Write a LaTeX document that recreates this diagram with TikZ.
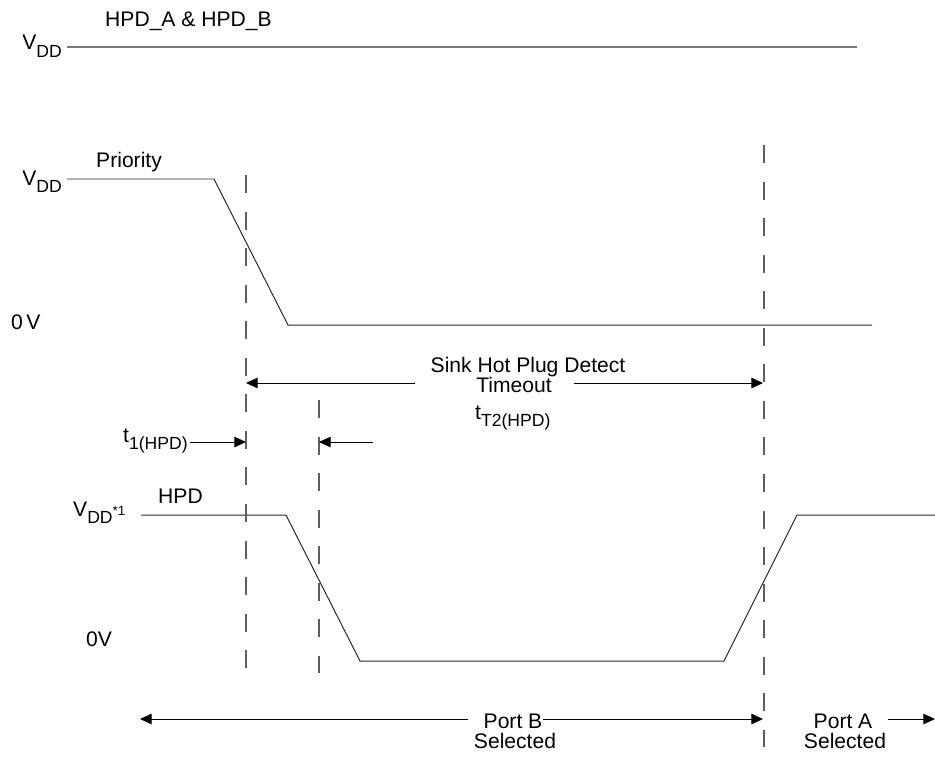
\documentclass[tikz,border=0pt]{standalone}
\usepackage{fontspec}
\setmainfont{Liberation Sans}
\usepackage{xcolor}
\usetikzlibrary{positioning,arrows.meta}
\definecolor{wavecolor}{RGB}{40,40,40}
\definecolor{railcolor}{RGB}{120,120,120}
\definecolor{guidecolor}{RGB}{95,95,95}
\newcommand{\lowsub}[1]{\raisebox{-6pt}{\fontsize{15}{15}\selectfont #1}}
\newcommand{\smallsup}[1]{\raisebox{0.5pt}{\fontsize{11.5}{11.5}\selectfont #1}}
\tikzset{
    wave/.style={draw=wavecolor, line width=0.85pt, line join=miter},
    rail/.style={draw=railcolor, line width=1pt},
    guide/.style={draw=guidecolor, line width=1.1pt, dash pattern=on 15.4pt off 15.8pt},
    span arrow/.style={draw=black, line width=0.85pt, -{Triangle[length=10pt,width=9pt]}},
    level label/.style={inner sep=0pt, font=\fontsize{18}{18}\selectfont}
}

\begin{document}
\begin{tikzpicture}[x=0.03cm, y=-0.03cm]
\useasboundingbox (0,0) rectangle (935,761);

% HPD_A & HPD_B rail
\node[level label, anchor=base west] (railname) at (105,27) {HPD\_A \& HPD\_B};
\node[level label, anchor=base east] (railvdd) at (62,50) {V\lowsub{DD}};
\coordinate (railstart) at (67,47);
\coordinate (railend) at (857,47);
\draw[rail] (railstart) -- (railend);

% Priority
\node[level label, anchor=base west] (prioname) at (96,167) {Priority};
\node[level label, anchor=base east] (priovdd) at (62,185) {V\lowsub{DD}};
\node[level label, anchor=base west] (priozero) at (11,329) {0\,V};
\draw[wave] (67,179) coordinate (priostart) -- (214,179) -- (288,325) -- (872,325) coordinate (prioend);

% HPD
\node[level label, anchor=base west] (hpdname) at (158,503) {HPD};
\node[level label, anchor=base west] (hpdvdd) at (73,516) {V\lowsub{DD}\smallsup{*1}};
\node[level label, anchor=base west] (hpdzero) at (86,646) {0V};
\draw[wave] (141,515) coordinate (hpdstart) -- (286,515) -- (360,661) -- (724,661) -- (797,515) -- (935,515) coordinate (hpdend);

% dashed guides
\coordinate (gatop) at (246,175);
\coordinate (gabot) at (246,668);
\coordinate (gbtop) at (319,400);
\coordinate (gbbot) at (319,673);
\coordinate (gctop) at (764,145);
\coordinate (gcbot) at (764,747);
\draw[guide] (gatop) -- (gabot);
\draw[guide] (gbtop) -- (gbbot);
\draw[guide] (gctop) -- (gcbot);

% sink timeout
\node[level label, anchor=base] (sinktext) at (528,372) {Sink Hot Plug Detect};
\node[level label, anchor=base] (timeout) at (514,392) {Timeout};
\node[level label, anchor=base west] (ttwo) at (475,419) {t\lowsub{T2(HPD)}};
\coordinate (sinkleft) at (246,383);
\coordinate (sinkright) at (763,383);
\draw[span arrow] ([xshift=-13pt]sinktext.west |- sinkleft) -- (sinkleft);
\draw[span arrow] ([xshift=19pt]timeout.east |- sinkright) -- (sinkright);

% t1(HPD)
\node[level label, anchor=base west] (tone) at (123,442) {t\lowsub{1(HPD)}};
\coordinate (toneend) at (246,442);
\coordinate (ttwostart) at (373,442);
\coordinate (ttwoend) at (319,442);
\draw[span arrow] ([xshift=2pt]tone.east |- toneend) -- (toneend);
\draw[span arrow] (ttwostart) -- (ttwoend);

% port selection
\node[level label, anchor=base] (portb) at (513,728) {Port B};
\node[level label, anchor=base] (portbsel) at (515,748) {Selected};
\node[level label, anchor=base] (porta) at (843,728) {Port A};
\node[level label, anchor=base] (portasel) at (845,748) {Selected};
\coordinate (portbleft) at (140,719);
\coordinate (portbright) at (763,719);
\coordinate (portaend) at (935,719);
\draw[span arrow] ([xshift=-13pt]portb.west |- portbleft) -- (portbleft);
\draw[span arrow] (portb.east |- portbright) -- (portbright);
\draw[span arrow] ([xshift=13pt]porta.east |- portaend) -- (portaend);
\end{tikzpicture}
\end{document}
